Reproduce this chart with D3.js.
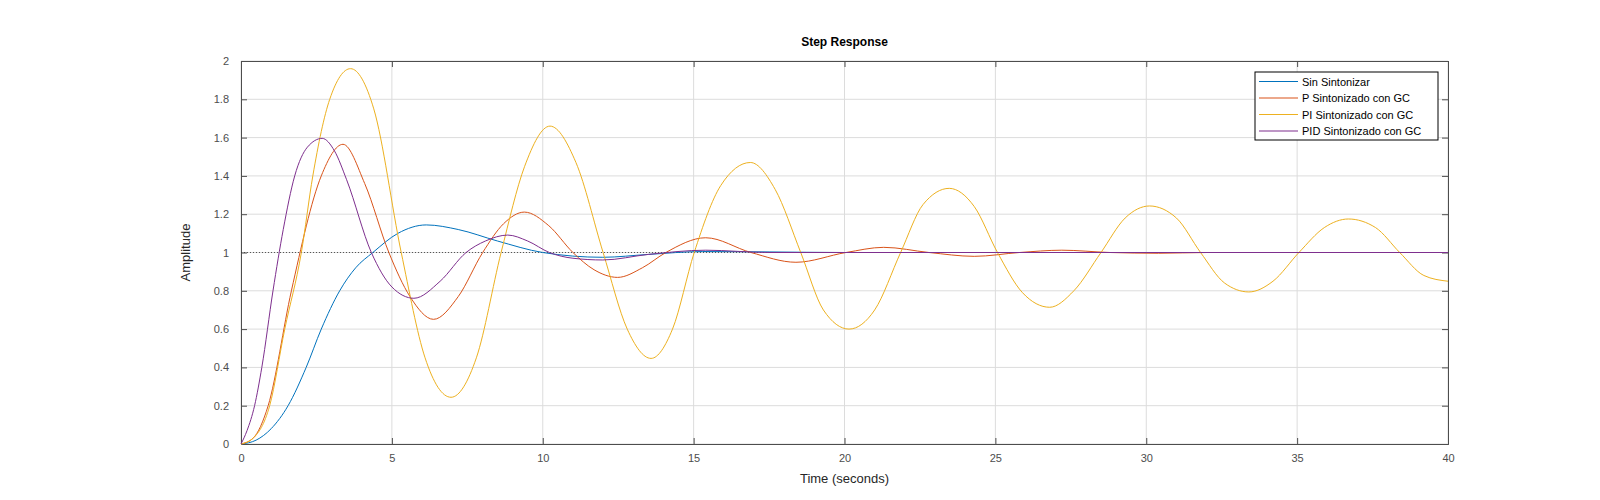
<!DOCTYPE html>
<html>
<head>
<meta charset="utf-8">
<script src="https://cdn.jsdelivr.net/npm/d3@7"></script>
<style>
  body { margin: 0; background: #fff; font-family: "Liberation Sans", Arial, sans-serif; }
  .tick text { fill: #4d4d4d; font-size: 11px; font-family: "Liberation Sans", Arial, sans-serif; }
</style>
</head>
<body>
<svg id="chart" width="1600" height="500"></svg>
<script>
// time ticks and amplitude ticks
const xTicks = [0, 5, 10, 15, 20, 25, 30, 35, 40];
const yTicks = [0, 0.2, 0.4, 0.6, 0.8, 1, 1.2, 1.4, 1.6, 1.8, 2];
const seriesNames = ["Sin Sintonizar", "P Sintonizado con GC", "PI Sintonizado con GC", "PID Sintonizado con GC"];
const colors = ["#0072BD", "#D95319", "#EDB120", "#7E2F8E"];

// values (time, amplitude)
const sinT = [0, 0.5, 1, 1.56, 2.16, 2.66, 3.27, 3.8, 4.37, 5.2, 6.14, 7.2, 8.5, 10.0, 11.99, 13.5, 15.3, 17.5, 20, 25, 30, 35, 40];
const sinY = [0, 0.02, 0.08, 0.2, 0.4, 0.6, 0.8, 0.92, 1.0, 1.1, 1.144, 1.12, 1.06, 1.0, 0.975, 0.99, 1.005, 1.003, 1.0, 1.0, 1.0, 1.0, 1.0];

const pT = [0, 0.4, 0.9, 1.67, 2.66, 3.38, 4.1, 4.9, 5.6, 6.38, 7.2, 8.01, 8.7, 9.39, 10.2, 11.0, 11.7, 12.48, 13.3, 14.08, 15.4, 16.9, 18.39, 20.05, 21.3, 22.8, 24.3, 25.8, 27.2, 28.8, 30.4, 32, 35, 40];
const pY = [0, 0.03, 0.2, 0.8, 1.4, 1.565, 1.36, 1.0, 0.77, 0.651, 0.77, 1.0, 1.15, 1.211, 1.14, 1.0, 0.91, 0.87, 0.92, 1.0, 1.077, 1.0, 0.949, 1.0, 1.027, 1.0, 0.98, 1.0, 1.012, 1.0, 0.996, 1.0, 1.0, 1.0];

const piT = [0, 0.4, 0.95, 1.45, 2.0, 2.38, 2.94, 3.63, 4.4, 5.31, 6.1, 6.96, 7.8, 8.62, 9.4, 10.24, 11.1, 12.0, 12.8, 13.59, 14.3, 15.02, 15.9, 16.88, 17.7, 18.55, 19.3, 20.15, 21.0, 21.86, 22.6, 23.47, 24.3, 25.07, 25.9, 26.8, 27.6, 28.5, 29.3, 30.11, 31.0, 31.8, 32.6, 33.4, 34.2, 35.06, 35.9, 36.7, 37.6, 38.4, 39.2, 40];
const piY = [0, 0.03, 0.2, 0.6, 1.0, 1.4, 1.8, 1.96, 1.75, 1.0, 0.45, 0.244, 0.45, 1.0, 1.45, 1.66, 1.47, 1.0, 0.6, 0.447, 0.6, 1.0, 1.35, 1.47, 1.33, 1.0, 0.7, 0.6, 0.7, 1.0, 1.25, 1.335, 1.24, 1.0, 0.79, 0.714, 0.8, 1.0, 1.18, 1.243, 1.18, 1.0, 0.84, 0.794, 0.85, 1.0, 1.13, 1.175, 1.13, 1.0, 0.88, 0.85];

const pidT = [0, 0.2, 0.45, 0.69, 1.06, 1.4, 1.78, 2.2, 2.69, 3.1, 3.5, 4.32, 5.0, 5.73, 6.6, 7.46, 8.1, 8.84, 9.5, 10.22, 11.0, 11.99, 13.5, 15.4, 17.5, 20, 25, 30, 35, 40];
const pidY = [0, 0.07, 0.2, 0.4, 0.8, 1.12, 1.4, 1.55, 1.596, 1.53, 1.38, 1.0, 0.82, 0.761, 0.85, 1.0, 1.06, 1.091, 1.06, 1.0, 0.97, 0.961, 0.99, 1.012, 1.0, 1.0, 1.0, 1.0, 1.0, 1.0];

const allT = [sinT, pT, piT, pidT];
const allY = [sinY, pY, piY, pidY];

const svg = d3.select("#chart");
const margin = { left: 241, right: 152, top: 61, bottom: 56 };
const width = 1600 - margin.left - margin.right;
const height = 500 - margin.top - margin.bottom;

const x = d3.scaleLinear().domain([0, 40]).range([0, width]);
const y = d3.scaleLinear().domain([0, 2]).range([height, 0]);

const g = svg.append("g").attr("transform", "translate(" + margin.left + "," + margin.top + ")");

// grid
g.selectAll(".gx").data(xTicks).enter().append("line")
  .attr("x1", d => x(d)).attr("x2", d => x(d)).attr("y1", 0).attr("y2", height)
  .attr("stroke", "#dcdcdc").attr("stroke-width", 1);
g.selectAll(".gy").data(yTicks).enter().append("line")
  .attr("x1", 0).attr("x2", width).attr("y1", d => y(d)).attr("y2", d => y(d))
  .attr("stroke", "#dcdcdc").attr("stroke-width", 1);

// axes with inward ticks, box all round
const fmt = d => String(+d.toFixed(1));
g.append("g").attr("transform", "translate(0," + height + ")")
  .call(d3.axisBottom(x).tickValues(xTicks).tickSize(-6).tickPadding(10).tickFormat(fmt));
g.append("g").call(d3.axisTop(x).tickValues(xTicks).tickSize(-6).tickFormat(""));
g.append("g").call(d3.axisLeft(y).tickValues(yTicks).tickSize(-6).tickPadding(12).tickFormat(fmt));
g.append("g").attr("transform", "translate(" + width + ",0)")
  .call(d3.axisRight(y).tickValues(yTicks).tickSize(-6).tickFormat(""));
g.selectAll(".domain, .tick line").attr("stroke", "#4d4d4d");

// reference line at 1
g.append("line").attr("x1", 0).attr("x2", width).attr("y1", y(1)).attr("y2", y(1))
  .attr("stroke", "#333").attr("stroke-width", 0.8).attr("stroke-dasharray", "1,2");

const line = d3.line().x(d => x(d[0])).y(d => y(d[1])).curve(d3.curveMonotoneX);
allT.forEach((ts, i) => {
  g.append("path")
    .datum(ts.map((t, j) => [t, allY[i][j]]))
    .attr("fill", "none").attr("stroke", colors[i]).attr("stroke-width", 1)
    .attr("d", line);
});

// labels
svg.append("text").attr("x", margin.left + width / 2).attr("y", 46).attr("text-anchor", "middle")
  .style("font-size", "12px").style("font-weight", "bold").attr("fill", "#000").text("Step Response");
svg.append("text").attr("x", margin.left + width / 2).attr("y", 483).attr("text-anchor", "middle")
  .style("font-size", "13px").attr("fill", "#262626").text("Time (seconds)");
svg.append("text").attr("transform", "translate(190," + (margin.top + height / 2) + ") rotate(-90)")
  .attr("text-anchor", "middle").style("font-size", "13px").attr("fill", "#262626").text("Amplitude");

// legend
const lg = svg.append("g").attr("transform", "translate(1255,72)");
lg.append("rect").attr("width", 183).attr("height", 68).attr("fill", "#fff").attr("stroke", "#000").attr("stroke-width", 1);
seriesNames.forEach((n, i) => {
  const yy = 9.5 + i * 16.5;
  lg.append("path").attr("d", "M4," + yy + "H43").attr("fill", "none")
    .attr("stroke", colors[i]).attr("stroke-width", 1.2);
  lg.append("text").attr("x", 47).attr("y", yy + 4).style("font-size", "11px").attr("fill", "#000").text(n);
});
</script>
</body>
</html>
